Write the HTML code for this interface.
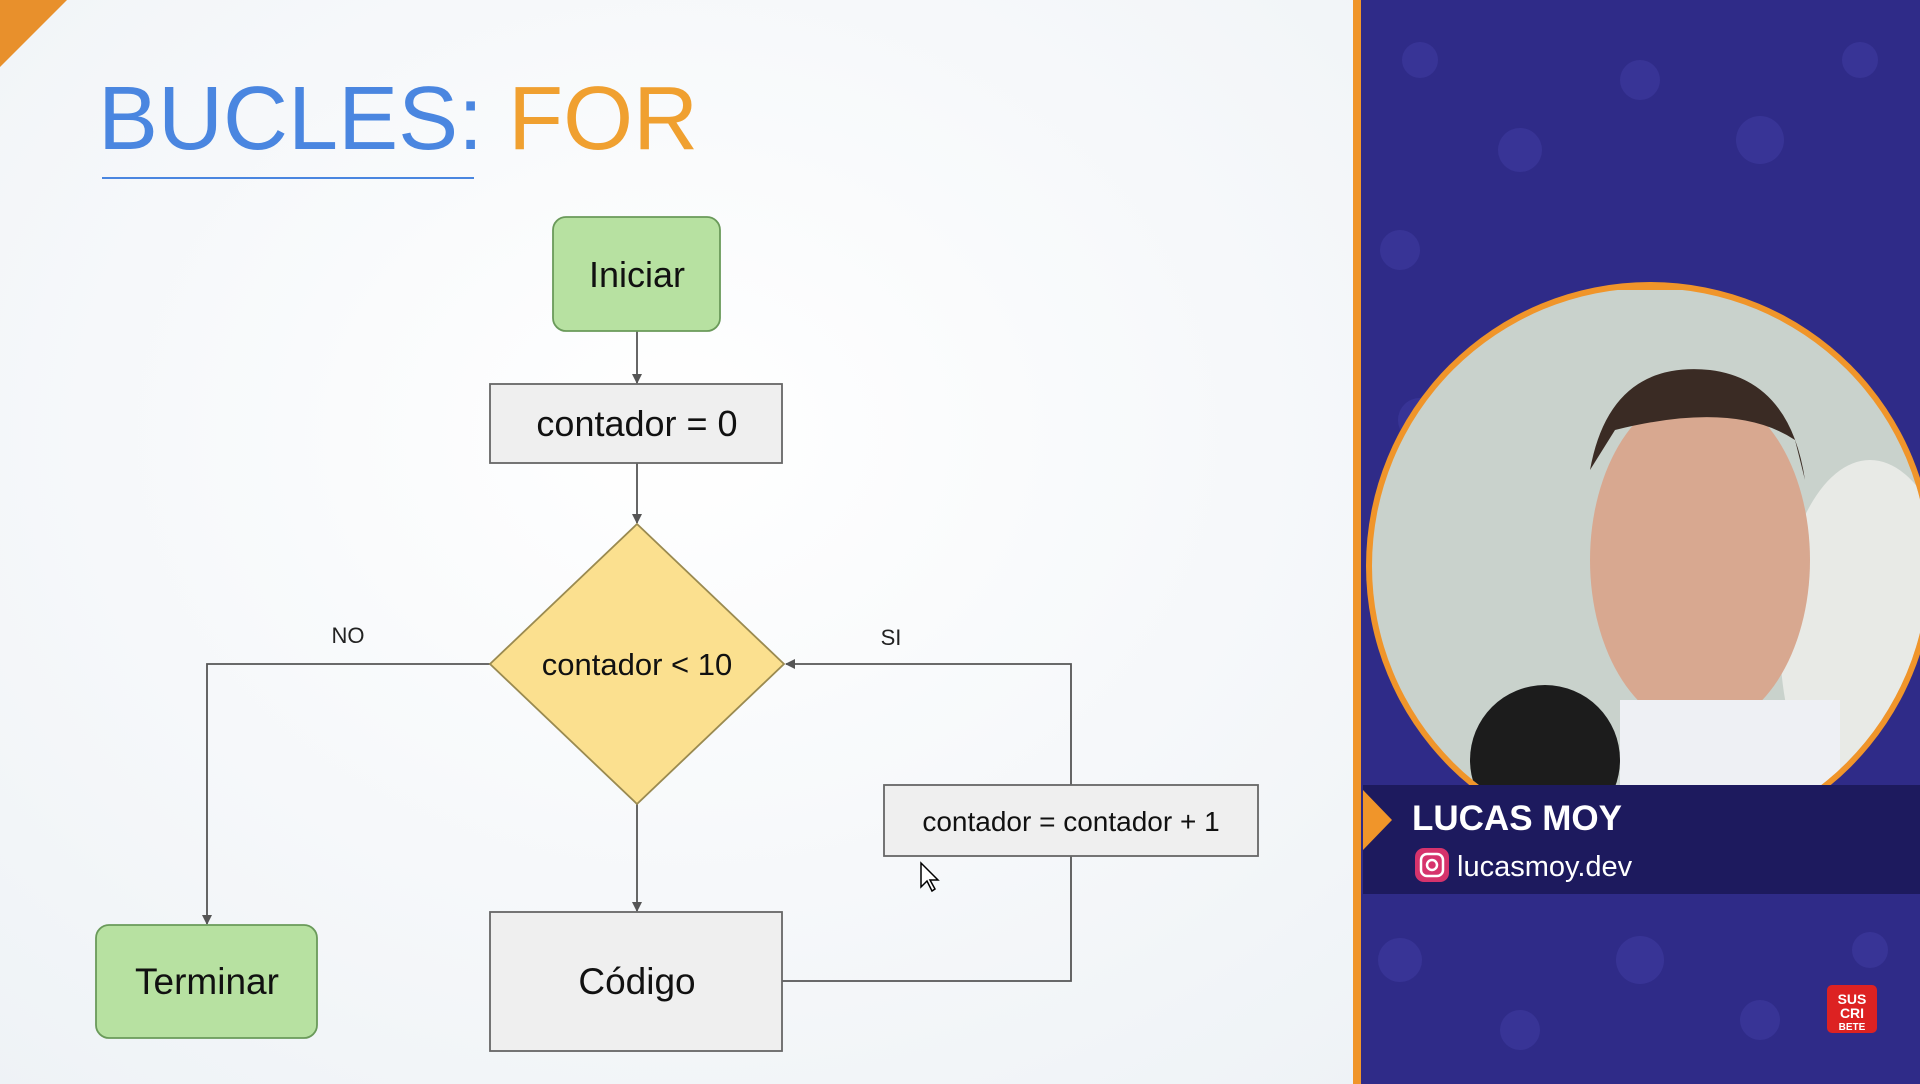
<!DOCTYPE html>
<html><head><meta charset="utf-8"><style>
html,body{margin:0;padding:0;width:1920px;height:1084px;overflow:hidden;background:#fafbfc;font-family:"Liberation Sans",sans-serif}
</style></head><body>
<svg width="1920" height="1084" viewBox="0 0 1920 1084" xmlns="http://www.w3.org/2000/svg" style="position:absolute;left:0;top:0">
<defs>
<marker id="a" markerWidth="10" markerHeight="10" refX="9" refY="5" orient="auto" markerUnits="userSpaceOnUse"><path d="M0,0 L10,5 L0,10 z" fill="#555"/></marker>
<radialGradient id="bg" cx="0.5" cy="0.4" r="0.8"><stop offset="0" stop-color="#ffffff"/><stop offset="1" stop-color="#eef2f6"/></radialGradient>
<clipPath id="cc"><circle cx="1650" cy="566" r="278"/></clipPath>
</defs>
<rect x="0" y="0" width="1355" height="1084" fill="url(#bg)"/>
<polygon points="0,0 67,0 0,67" fill="#e8902c"/>
<text x="98" y="149" font-size="90" fill="#4a86e0" font-family="Liberation Sans">BUCLES: <tspan fill="#f0a030">FOR</tspan></text>
<line x1="102" y1="178" x2="474" y2="178" stroke="#4a86e0" stroke-width="2"/>
<g stroke="#555" stroke-width="1.8" fill="none">
<line x1="637" y1="331" x2="637" y2="383" marker-end="url(#a)"/>
<line x1="637" y1="463" x2="637" y2="523" marker-end="url(#a)"/>
<line x1="637" y1="804" x2="637" y2="911" marker-end="url(#a)"/>
<polyline points="490,664 207,664 207,924" marker-end="url(#a)"/>
<polyline points="782,981 1071,981 1071,664 786,664" marker-end="url(#a)"/>
</g>
<rect x="553" y="217" width="167" height="114" rx="13" fill="#b7e1a1" stroke="#6a9a5a" stroke-width="1.8"/>
<text x="637" y="287" font-size="36" text-anchor="middle" fill="#111">Iniciar</text>
<rect x="490" y="384" width="292" height="79" fill="#efefef" stroke="#666" stroke-width="1.8"/>
<text x="637" y="436" font-size="36" text-anchor="middle" fill="#111">contador = 0</text>
<polygon points="637,524 784,664 637,804 490,664" fill="#fbe08f" stroke="#9a8a50" stroke-width="1.8"/>
<text x="637" y="675" font-size="31" text-anchor="middle" fill="#111">contador &lt; 10</text>
<rect x="490" y="912" width="292" height="139" fill="#efefef" stroke="#666" stroke-width="1.8"/>
<text x="637" y="994" font-size="37" text-anchor="middle" fill="#111">Código</text>
<rect x="96" y="925" width="221" height="113" rx="13" fill="#b7e1a1" stroke="#6a9a5a" stroke-width="1.8"/>
<text x="207" y="994" font-size="37" text-anchor="middle" fill="#111">Terminar</text>
<rect x="884" y="785" width="374" height="71" fill="#efefef" stroke="#666" stroke-width="1.8"/>
<text x="1071" y="831" font-size="28" text-anchor="middle" fill="#111">contador = contador + 1</text>
<text x="348" y="643" font-size="22" text-anchor="middle" fill="#222">NO</text>
<text x="891" y="645" font-size="22" text-anchor="middle" fill="#222">SI</text>
<path d="M921,863 l0,24 l6,-6 l5,10 l3,-2 l-5,-9 l8,0 z" fill="#fff" stroke="#000" stroke-width="1.5"/>
<rect x="1353" y="0" width="8" height="1084" fill="#f0952a"/>
<rect x="1361" y="0" width="559" height="1084" fill="#2f2b88"/>
<g fill="#3b379a" opacity="0.8">
<circle cx="1420" cy="60" r="18"/><circle cx="1520" cy="150" r="22"/><circle cx="1640" cy="80" r="20"/><circle cx="1760" cy="140" r="24"/><circle cx="1860" cy="60" r="18"/><circle cx="1400" cy="250" r="20"/><circle cx="1420" cy="420" r="22"/><circle cx="1400" cy="960" r="22"/><circle cx="1520" cy="1030" r="20"/><circle cx="1640" cy="960" r="24"/><circle cx="1760" cy="1020" r="20"/><circle cx="1870" cy="950" r="18"/>
</g>
<circle cx="1650" cy="566" r="284" fill="#f0952a"/>
<circle cx="1650" cy="566" r="276" fill="#c6cfc9"/>
<g clip-path="url(#cc)">
<rect x="1370" y="290" width="560" height="560" fill="#c9d2cc"/>
<ellipse cx="1870" cy="640" rx="90" ry="180" fill="#e8eae6"/>
<ellipse cx="1700" cy="560" rx="110" ry="170" fill="#d8a890"/>
<path d="M1590,470 q20,-110 120,-100 q80,10 95,110 l-10,-40 q-60,-40 -180,-10 z" fill="#3a2b24"/>
<ellipse cx="1545" cy="760" rx="75" ry="75" fill="#1c1c1c"/>
<rect x="1620" y="700" width="220" height="160" fill="#eef0f4"/>
</g>
<rect x="1363" y="785" width="557" height="109" fill="#1d1a5e"/>
<polygon points="1363,790 1392,820 1363,850" fill="#f0952a"/>
<text x="1412" y="830" font-size="35" font-weight="bold" fill="#fff">LUCAS MOY</text>
<rect x="1415" y="848" width="34" height="34" rx="9" fill="#d6336c"/>
<rect x="1421" y="854" width="22" height="22" rx="6" fill="none" stroke="#fff" stroke-width="2.5"/>
<circle cx="1432" cy="865" r="5" fill="none" stroke="#fff" stroke-width="2.5"/>
<text x="1457" y="876" font-size="29" fill="#fff">lucasmoy.dev</text>
<rect x="1827" y="985" width="50" height="48" rx="5" fill="#d22"/>
<text x="1852" y="1004" font-size="14" font-weight="bold" text-anchor="middle" fill="#fff">SUS</text>
<text x="1852" y="1018" font-size="14" font-weight="bold" text-anchor="middle" fill="#fff">CRI</text>
<text x="1852" y="1030" font-size="10" font-weight="bold" text-anchor="middle" fill="#fff">BETE</text>
</svg>
</body></html>
